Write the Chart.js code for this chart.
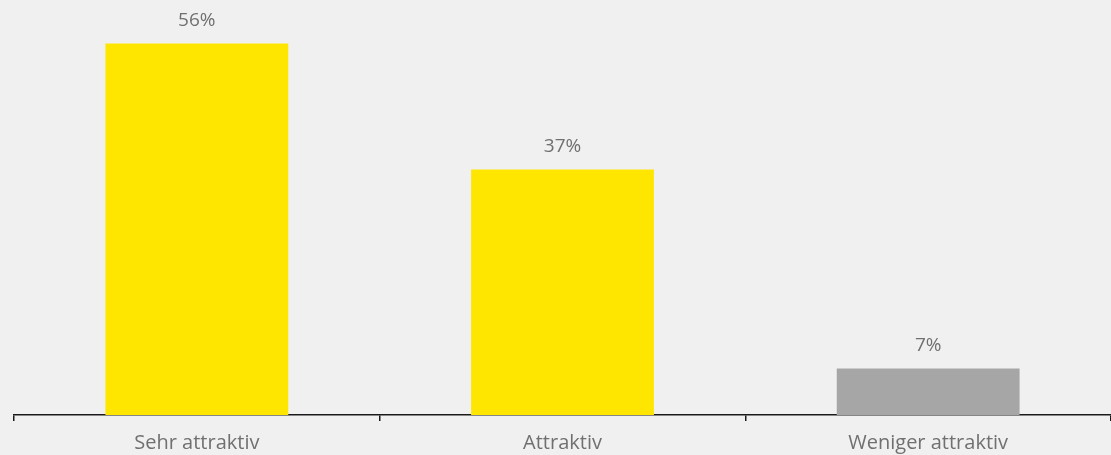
<!DOCTYPE html>
<html>
<head>
<meta charset="utf-8">
<script src="https://cdn.jsdelivr.net/npm/chart.js@4"></script>
<style>
  html, body { margin: 0; padding: 0; background: #f0f0f0; }
  #wrap { width: 1111px; height: 455px; position: relative; }
</style>
</head>
<body>
<div id="wrap"><canvas id="attrChart"></canvas></div>
<script>
const categories = ['Sehr attraktiv', 'Attraktiv', 'Weniger attraktiv'];
const shares = [56, 37, 7];
const barColors = ['#ffe600', '#ffe600', '#a6a6a6'];

const textColor = '#707070';
const fontFamily = "'Open Sans', sans-serif";

// value labels above each bar
const valueLabels = {
  id: 'valueLabels',
  afterDatasetsDraw(chart) {
    const ctx = chart.ctx;
    const meta = chart.getDatasetMeta(0);
    ctx.save();
    ctx.fillStyle = textColor;
    ctx.font = '19px ' + fontFamily;
    ctx.textAlign = 'center';
    ctx.textBaseline = 'middle';
    meta.data.forEach((bar, i) => {
      ctx.fillText(shares[i] + '%', bar.x, bar.y - 23);
    });
    ctx.restore();
  }
};

new Chart(document.getElementById('attrChart'), {
  type: 'bar',
  data: {
    labels: categories,
    datasets: [{
      data: shares,
      backgroundColor: barColors,
      barPercentage: 0.5,
      categoryPercentage: 1.0
    }]
  },
  options: {
    responsive: true,
    maintainAspectRatio: false,
    animation: false,
    layout: { padding: { left: 14, right: -2, top: 17, bottom: -10 } },
    plugins: {
      legend: { display: false },
      tooltip: { enabled: false }
    },
    scales: {
      y: {
        display: false,
        min: 0,
        max: 60
      },
      x: {
        border: { display: true, color: '#1a1a1a', width: 1.5 },
        grid: {
          offset: true,
          drawOnChartArea: false,
          drawTicks: true,
          tickLength: 6,
          color: '#1a1a1a',
          lineWidth: 1.5
        },
        ticks: {
          color: textColor,
          font: { family: fontFamily, size: 20 },
          padding: 10
        }
      }
    }
  },
  plugins: [valueLabels]
});
</script>
</body>
</html>
